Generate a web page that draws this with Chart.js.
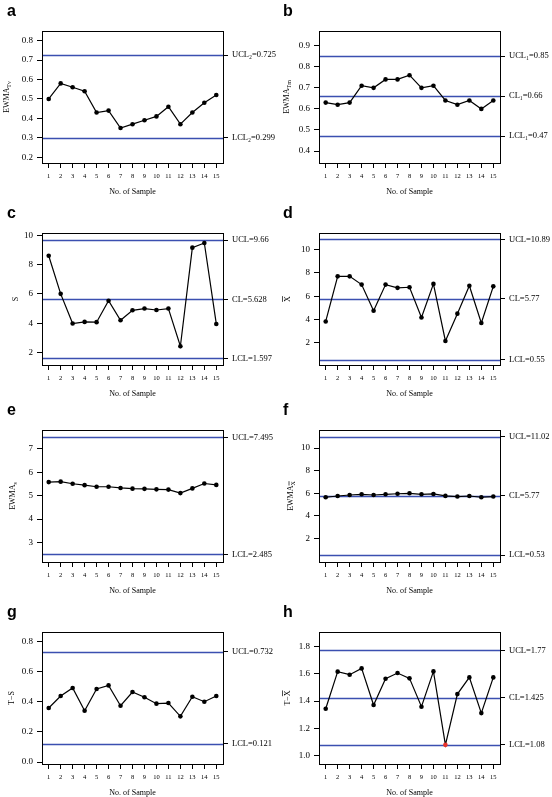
<!DOCTYPE html>
<html>
<head>
<meta charset="utf-8">
<script src="https://cdn.jsdelivr.net/npm/chart.js@4/dist/chart.umd.min.js"></script>
<style>
  body { margin: 0; background: #fff; }
  #wrap { position: relative; width: 552px; height: 797px; }
  #wrap canvas { position: absolute; }
</style>
</head>
<body>
<div id="wrap">
  <canvas id="ca" width="276" height="200" style="left:0;top:0"></canvas>
  <canvas id="cb" width="276" height="200" style="left:276px;top:0"></canvas>
  <canvas id="cc" width="276" height="200" style="left:0;top:202px"></canvas>
  <canvas id="cd" width="276" height="200" style="left:276px;top:202px"></canvas>
  <canvas id="ce" width="276" height="200" style="left:0;top:399px"></canvas>
  <canvas id="cf" width="276" height="200" style="left:276px;top:399px"></canvas>
  <canvas id="cg" width="276" height="200" style="left:0;top:601px"></canvas>
  <canvas id="ch" width="276" height="200" style="left:276px;top:601px"></canvas>
</div>
<script>
const sampleNo = [1, 2, 3, 4, 5, 6, 7, 8, 9, 10, 11, 12, 13, 14, 15];

// values
const ewmaTv = [0.50, 0.58, 0.56, 0.54, 0.43, 0.44, 0.35, 0.37, 0.39, 0.41, 0.46, 0.37, 0.43, 0.48, 0.52];
const ewmaTm = [0.63, 0.62, 0.63, 0.71, 0.70, 0.74, 0.74, 0.76, 0.70, 0.71, 0.64, 0.62, 0.64, 0.60, 0.64];
const sValues = [8.6, 6.0, 3.98, 4.09, 4.07, 5.53, 4.2, 4.88, 5.0, 4.9, 5.0, 2.43, 9.15, 9.47, 3.95];
const xbarValues = [3.83, 7.71, 7.71, 7.0, 4.75, 7.0, 6.72, 6.77, 4.17, 7.06, 2.15, 4.5, 6.9, 3.7, 6.85];
const ewmaS = [5.58, 5.6, 5.51, 5.45, 5.38, 5.38, 5.33, 5.3, 5.29, 5.27, 5.26, 5.11, 5.31, 5.52, 5.46];
const ewmaXbar = [5.65, 5.76, 5.85, 5.91, 5.85, 5.91, 5.96, 6.0, 5.91, 5.94, 5.77, 5.71, 5.76, 5.65, 5.71];
const tS = [0.358, 0.438, 0.491, 0.34, 0.484, 0.508, 0.373, 0.464, 0.429, 0.387, 0.391, 0.303, 0.433, 0.40, 0.438];
const tXbar = [1.344, 1.615, 1.593, 1.639, 1.371, 1.563, 1.605, 1.566, 1.359, 1.617, 1.08, 1.451, 1.573, 1.312, 1.573];

// control limits
const limitNamesA = ["UCL\u2082", "LCL\u2082"];
const limitsA = [0.725, 0.299];
const limitNamesB = ["UCL\u2081", "CL\u2081", "LCL\u2081"];
const limitsB = [0.85, 0.66, 0.47];
const limitNamesC = ["UCL", "CL", "LCL"];
const limitsC = [9.66, 5.628, 1.597];
const limitsD = [10.89, 5.77, 0.55];
const limitNamesE = ["UCL", "LCL"];
const limitsE = [7.495, 2.485];
const limitsF = [11.02, 5.77, 0.53];
const limitsG = [0.732, 0.121];
const limitsH = [1.77, 1.425, 1.08];

// y tick labels
const yTicksA = [0.2, 0.3, 0.4, 0.5, 0.6, 0.7, 0.8];
const yTicksB = [0.4, 0.5, 0.6, 0.7, 0.8, 0.9];
const yTicksC = [2, 4, 6, 8, 10];
const yTicksD = [2, 4, 6, 8, 10];
const yTicksE = [3, 4, 5, 6, 7];
const yTicksF = [2, 4, 6, 8, 10];
const yTicksG = [0.0, 0.2, 0.4, 0.6, 0.8];
const yTicksH = [1.0, 1.2, 1.4, 1.6, 1.8];

const SERIF = "'Liberation Serif', 'Times New Roman', serif";
const LIMIT_BLUE = "#3b4fb0";

// draws the box, control lines, panel letter and y title (with subscripts / bars)
const controlPlugin = {
  id: "control",
  beforeDatasetsDraw(chart, args, opts) {
    const {ctx, chartArea} = chart;
    const y = chart.scales.y;
    ctx.save();
    ctx.strokeStyle = LIMIT_BLUE;
    ctx.lineWidth = 1.5;
    opts.limits.forEach(v => {
      const py = Math.round(y.getPixelForValue(v)) + 0.5;
      ctx.beginPath();
      ctx.moveTo(chartArea.left, py);
      ctx.lineTo(chartArea.right, py);
      ctx.stroke();
    });
    ctx.restore();
  },
  afterDraw(chart, args, opts) {
    const {ctx, chartArea} = chart;
    ctx.save();
    ctx.strokeStyle = "#000";
    ctx.lineWidth = 1;
    ctx.strokeRect(Math.round(chartArea.left) + 0.5, Math.round(chartArea.top) + 0.5,
      Math.round(chartArea.right - chartArea.left), Math.round(chartArea.bottom - chartArea.top));

    // panel letter
    ctx.fillStyle = "#000";
    ctx.font = "bold 16px 'Liberation Sans', Arial, sans-serif";
    ctx.textBaseline = "alphabetic";
    ctx.textAlign = "left";
    ctx.fillText(opts.letter, 7, 15.5);

    // rotated y title built from parts
    const parts = opts.title;
    const mainFont = "8px " + SERIF;
    const subFont = "6px " + SERIF;
    let total = 0;
    parts.forEach(p => {
      ctx.font = p.sub ? subFont : mainFont;
      p.w = ctx.measureText(p.t).width;
      total += p.w;
    });
    const cy = (chartArea.top + chartArea.bottom) / 2;
    ctx.translate(opts.titleX, cy);
    ctx.rotate(-Math.PI / 2);
    ctx.textBaseline = "middle";
    let x = -total / 2;
    parts.forEach(p => {
      ctx.font = p.sub ? subFont : mainFont;
      const dy = p.sub ? 2 : 0;
      ctx.fillText(p.t, x, dy);
      if (p.bar) {
        const top = dy - (p.sub ? 4 : 5.5);
        ctx.lineWidth = 0.7;
        ctx.beginPath();
        ctx.moveTo(x, top);
        ctx.lineTo(x + p.w, top);
        ctx.stroke();
      }
      x += p.w;
    });
    ctx.restore();
  }
};

function makePanel(id, cfg) {
  const lcl = cfg.limits[cfg.limits.length - 1];
  const fmt = v => cfg.decimals ? Number(v).toFixed(cfg.decimals) : String(Math.round(v));
  return new Chart(document.getElementById(id), {
    type: "line",
    data: {
      datasets: [{
        data: cfg.values.map((v, i) => ({x: sampleNo[i], y: v})),
        borderColor: "#000",
        borderWidth: 1.2,
        tension: 0,
        pointRadius: 2.3,
        pointBorderWidth: 0,
        pointBackgroundColor: c => (cfg.flagLow && c.raw && c.raw.y <= lcl + 1e-9) ? "#e8322a" : "#000",
        fill: false
      }]
    },
    options: {
      responsive: false,
      animation: false,
      devicePixelRatio: 1,
      layout: {padding: {top: 31, left: 0, right: 0, bottom: 0}},
      plugins: {
        legend: {display: false},
        tooltip: {enabled: false},
        control: {limits: cfg.limits, letter: cfg.letter, title: cfg.title, titleX: cfg.titleX}
      },
      scales: {
        x: {
          type: "linear",
          min: 0.44,
          max: 15.56,
          afterBuildTicks: s => { s.ticks = sampleNo.map(v => ({value: v})); },
          afterFit: s => { s.height = 37; },
          grid: {drawOnChartArea: false, drawTicks: true, tickLength: 5, color: "#000", lineWidth: 1},
          border: {display: false},
          ticks: {color: "#000", font: {family: SERIF, size: 6.5}, padding: 4, maxRotation: 0, autoSkip: false},
          title: {display: true, text: "No. of Sample", color: "#000", font: {family: SERIF, size: 8}, padding: {top: 0, bottom: 3}}
        },
        y: {
          type: "linear",
          position: "left",
          min: cfg.yMin,
          max: cfg.yMax,
          afterBuildTicks: s => { s.ticks = cfg.yTicks.map(v => ({value: v})); },
          afterFit: s => { s.width = cfg.yWidth; },
          grid: {drawOnChartArea: false, drawTicks: true, tickLength: 5, color: "#000", lineWidth: 1},
          border: {display: false},
          ticks: {color: "#000", font: {family: SERIF, size: 9}, padding: 4, callback: v => fmt(v)}
        },
        y2: {
          type: "linear",
          position: "right",
          min: cfg.yMin,
          max: cfg.yMax,
          afterBuildTicks: s => { s.ticks = cfg.limits.map(v => ({value: v})); },
          afterFit: s => { s.width = 276 - cfg.yWidth - 181; },
          grid: {drawOnChartArea: false, drawTicks: true, tickLength: 5, color: "#000", lineWidth: 1},
          border: {display: false},
          ticks: {
            color: "#000", font: {family: SERIF, size: 8.5}, padding: 4, autoSkip: false,
            callback: (v, i) => cfg.limitNames[i] + "=" + cfg.limits[i]
          }
        }
      }
    },
    plugins: [controlPlugin]
  });
}

makePanel("ca", {letter: "a", values: ewmaTv, limits: limitsA, limitNames: limitNamesA,
  yMin: 0.17, yMax: 0.85, yTicks: yTicksA, decimals: 1, yWidth: 42, titleX: 7,
  title: [{t: "EWMA"}, {t: "Tv", sub: true}]});
makePanel("cb", {letter: "b", values: ewmaTm, limits: limitsB, limitNames: limitNamesB,
  yMin: 0.343, yMax: 0.97, yTicks: yTicksB, decimals: 1, yWidth: 43, titleX: 11,
  title: [{t: "EWMA"}, {t: "Tm", sub: true}]});
makePanel("cc", {letter: "c", values: sValues, limits: limitsC, limitNames: limitNamesC,
  yMin: 1.15, yMax: 10.15, yTicks: yTicksC, decimals: 0, yWidth: 42, titleX: 16,
  title: [{t: "S"}]});
makePanel("cd", {letter: "d", values: xbarValues, limits: limitsD, limitNames: limitNamesC,
  yMin: 0.08, yMax: 11.44, yTicks: yTicksD, decimals: 0, yWidth: 43, titleX: 12,
  title: [{t: "X", bar: true}]});
makePanel("ce", {letter: "e", values: ewmaS, limits: limitsE, limitNames: limitNamesE,
  yMin: 2.16, yMax: 7.81, yTicks: yTicksE, decimals: 0, yWidth: 42, titleX: 13,
  title: [{t: "EWMA"}, {t: "s", sub: true}]});
makePanel("cf", {letter: "f", values: ewmaXbar, limits: limitsF, limitNames: limitNamesC,
  yMin: -0.08, yMax: 11.6, yTicks: yTicksF, decimals: 0, yWidth: 43, titleX: 15,
  title: [{t: "EWMA"}, {t: "X", sub: true, bar: true}]});
makePanel("cg", {letter: "g", values: tS, limits: limitsG, limitNames: limitNamesE,
  yMin: -0.013, yMax: 0.862, yTicks: yTicksG, decimals: 1, yWidth: 42, titleX: 12,
  title: [{t: "T\u2212S"}]});
makePanel("ch", {letter: "h", values: tXbar, limits: limitsH, limitNames: limitNamesC,
  yMin: 0.94, yMax: 1.905, yTicks: yTicksH, decimals: 1, yWidth: 43, titleX: 12, flagLow: true,
  title: [{t: "T\u2212"}, {t: "X", bar: true}]});
</script>
</body>
</html>
